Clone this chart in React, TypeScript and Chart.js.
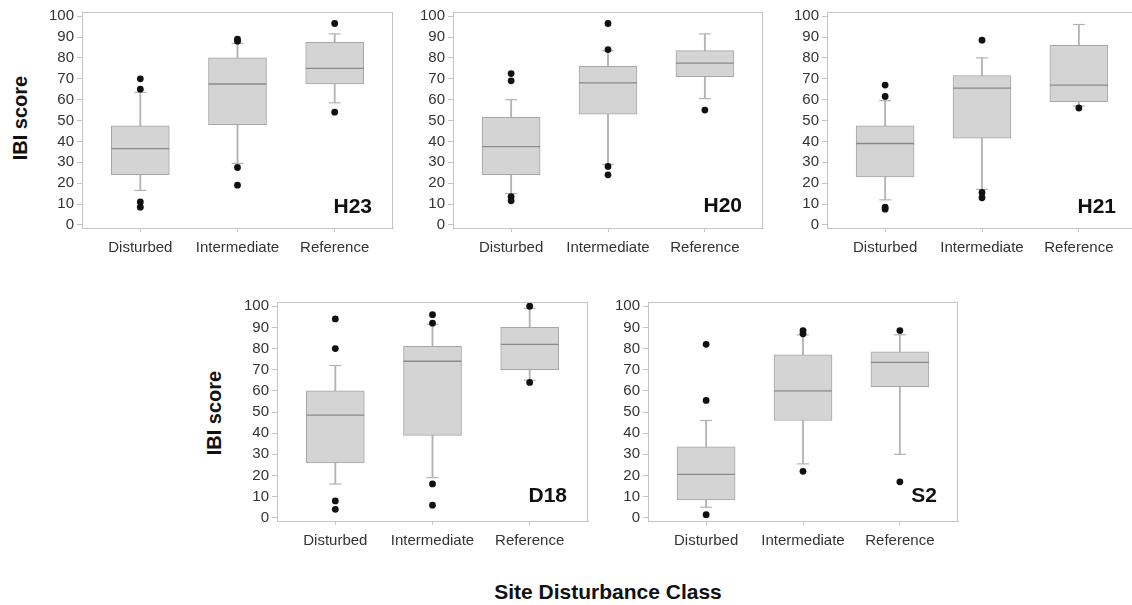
import React, { useEffect, useRef } from "react";
import { Chart, registerables } from "chart.js";

Chart.register(...registerables);

const FONT = "'Liberation Sans', Arial, Helvetica, sans-serif";

// Data
const categories = ["Disturbed", "Intermediate", "Reference"];
const yTicks = [0, 10, 20, 30, 40, 50, 60, 70, 80, 90, 100];

// five-number summaries per category: [whiskerLow, q1, median, q3, whiskerHigh]
const h23Stats = [
  [16.5, 24, 36.5, 47.5, 63.5],
  [29.5, 48, 67.5, 80, 87],
  [58.5, 67.5, 75, 87.5, 91.5],
];
const h23Outliers = [[70, 65, 11, 8.5], [89, 88, 27.5, 19], [96.5, 54]];

const h20Stats = [
  [15, 24, 37.5, 51.5, 60],
  [29, 53, 68, 76, 83.5],
  [60.5, 71, 77.5, 83.5, 91.5],
];
const h20Outliers = [[72.5, 69, 13.5, 11.5], [96.5, 84, 28, 24], [55]];

const h21Stats = [
  [12, 23, 39, 47.5, 59.5],
  [17, 41.5, 65.5, 71.5, 80],
  [57, 59, 67, 86, 96],
];
const h21Outliers = [[67, 61.5, 8.5, 7.5], [88.5, 15.5, 13], [56]];

const d18Stats = [
  [16, 26, 48.5, 60, 72],
  [19, 39, 74, 81, 91.5],
  [65, 70, 82, 90, 99],
];
const d18Outliers = [[94, 80, 8, 4], [96, 92, 16, 6], [100, 64]];

const s2Stats = [
  [5, 8.5, 20.5, 33.5, 46],
  [25.5, 46, 60, 77, 86.5],
  [30, 62, 73.5, 78.5, 86.5],
];
const s2Outliers = [[82, 55.5, 1.5], [88.5, 87, 22], [88.5, 17]];

// Layout (plot-area rectangles in page pixels)
const Y_AXIS_W = 50;
const PAD_T = 12;
const PAD_R = 12;
const X_AXIS_H = 40;

const panels = [
  { name: "H23", stats: h23Stats, outliers: h23Outliers, left: 82, right: 393, top: 12, bottom: 228, labelDy: 15 },
  { name: "H20", stats: h20Stats, outliers: h20Outliers, left: 453, right: 763, top: 12, bottom: 228, labelDy: 16 },
  { name: "H21", stats: h21Stats, outliers: h21Outliers, left: 827, right: 1137, top: 12, bottom: 228, labelDy: 15 },
  { name: "D18", stats: d18Stats, outliers: d18Outliers, left: 277, right: 588, top: 302, bottom: 521, labelDy: 19 },
  { name: "S2", stats: s2Stats, outliers: s2Outliers, left: 648, right: 958, top: 302, bottom: 521, labelDy: 19 },
];

const BOX_FILL = "#d4d4d4";
const BOX_EDGE = "#a6a6a6";
const MEDIAN = "#8a8a8a";
const WHISK = "#b3b3b3";
const FRAME = "#c4c4c4";

function Panel(props: any) {
  const { p } = props;
  const ref = useRef<HTMLCanvasElement | null>(null);
  const w = Y_AXIS_W + (p.right - p.left) + PAD_R;
  const h = PAD_T + (p.bottom - p.top) + X_AXIS_H;

  useEffect(() => {
    if (!ref.current) return;
    const stats: number[][] = p.stats;
    const outs: number[][] = p.outliers;

    const frameAndLabel = {
      id: "frameAndLabel",
      afterDatasetsDraw(chart: any) {
        const { ctx, chartArea } = chart;
        ctx.save();
        ctx.strokeStyle = FRAME;
        ctx.lineWidth = 1;
        ctx.beginPath();
        ctx.moveTo(chartArea.left, chartArea.top + 0.5);
        ctx.lineTo(chartArea.right, chartArea.top + 0.5);
        ctx.moveTo(chartArea.right - 0.5, chartArea.top);
        ctx.lineTo(chartArea.right - 0.5, chartArea.bottom);
        ctx.stroke();
        ctx.fillStyle = "#111";
        ctx.font = `bold 21px ${FONT}`;
        ctx.textAlign = "right";
        ctx.textBaseline = "alphabetic";
        ctx.fillText(p.name, chartArea.right - 21, chartArea.bottom - p.labelDy);
        ctx.restore();
      },
    };

    const chart = new Chart(ref.current, {
      type: "bar",
      data: {
        datasets: [
          {
            type: "scatter",
            label: "outliers",
            order: 0,
            data: outs.flatMap((arr, i) => arr.map((v) => ({ x: i, y: v }))),
            pointRadius: 3.4,
            pointBackgroundColor: "#111",
            pointBorderWidth: 0,
            clip: false,
          },
          {
            type: "scatter",
            label: "median",
            order: 1,
            data: stats.map((s, i) => ({ x: i, y: s[2] })),
            pointStyle: "line",
            pointRadius: 29,
            pointBorderColor: MEDIAN,
            pointBorderWidth: 1.3,
          },
          {
            type: "bar",
            label: "box",
            order: 2,
            grouped: false,
            data: stats.map((s, i) => ({ x: i, y: [s[1], s[3]] })),
            barThickness: 58,
            backgroundColor: BOX_FILL,
            borderColor: BOX_EDGE,
            borderWidth: 1,
            borderSkipped: false,
          },
          {
            type: "scatter",
            label: "caps",
            order: 3,
            data: stats.flatMap((s, i) => [
              { x: i, y: s[0] },
              { x: i, y: s[4] },
            ]),
            pointStyle: "line",
            pointRadius: 6,
            pointBorderColor: WHISK,
            pointBorderWidth: 1.2,
          },
          {
            type: "bar",
            label: "lower whisker",
            order: 4,
            grouped: false,
            data: stats.map((s, i) => ({ x: i, y: [s[0], s[1]] })),
            barThickness: 1.2,
            backgroundColor: WHISK,
            borderWidth: 0,
          },
          {
            type: "bar",
            label: "upper whisker",
            order: 4,
            grouped: false,
            data: stats.map((s, i) => ({ x: i, y: [s[3], s[4]] })),
            barThickness: 1.2,
            backgroundColor: WHISK,
            borderWidth: 0,
          },
        ] as any,
      },
      options: {
        animation: false,
        responsive: false,
        events: [],
        layout: { autoPadding: false, padding: { left: 0, right: PAD_R, top: PAD_T, bottom: 0 } },
        plugins: { legend: { display: false }, tooltip: { enabled: false } },
        scales: {
          x: {
            type: "linear",
            min: -0.6,
            max: 2.6,
            offset: false,
            grid: {
              display: true,
              offset: false,
              drawOnChartArea: false,
              drawTicks: true,
              tickLength: 4,
              color: FRAME,
            },
            border: { display: true, color: FRAME },
            afterBuildTicks: (s: any) => {
              s.ticks = categories.map((_, i) => ({ value: i }));
            },
            afterFit: (s: any) => {
              s.height = X_AXIS_H;
            },
            ticks: {
              autoSkip: false,
              maxRotation: 0,
              padding: 7,
              color: "#333",
              font: { family: FONT, size: 15 },
              callback: (v: any) => categories[v as number] ?? "",
            },
          },
          y: {
            type: "linear",
            min: -1.5,
            max: 102,
            grid: {
              display: true,
              drawOnChartArea: false,
              drawTicks: true,
              tickLength: 5,
              color: FRAME,
            },
            border: { display: true, color: FRAME },
            afterBuildTicks: (s: any) => {
              s.ticks = yTicks.map((v) => ({ value: v }));
            },
            afterFit: (s: any) => {
              s.width = Y_AXIS_W;
            },
            ticks: {
              autoSkip: false,
              padding: 3,
              color: "#333",
              font: { family: FONT, size: 15 },
            },
          },
        },
      } as any,
      plugins: [frameAndLabel],
    });
    return () => chart.destroy();
  }, []);

  return (
    <canvas
      ref={ref}
      width={w}
      height={h}
      style={{
        position: "absolute",
        left: p.left - Y_AXIS_W,
        top: p.top - PAD_T,
        width: w,
        height: h,
      }}
    />
  );
}

const axisTitle: any = {
  position: "absolute",
  fontFamily: FONT,
  fontWeight: "bold",
  fontSize: 20,
  color: "#111",
  whiteSpace: "nowrap",
  transform: "translate(-50%, -50%) rotate(-90deg)",
};

export default function App() {
  return (
    <div
      style={{
        position: "fixed",
        left: 0,
        top: 0,
        width: 1132,
        height: 605,
        overflow: "hidden",
        background: "#fff",
      }}
    >
      {panels.map((p) => (
        <Panel key={p.name} p={p} />
      ))}
      <div style={{ ...axisTitle, left: 20, top: 118 }}>IBI score</div>
      <div style={{ ...axisTitle, left: 214, top: 413 }}>IBI score</div>
      <div
        style={{
          position: "absolute",
          left: 608,
          top: 592,
          transform: "translate(-50%, -50%)",
          fontFamily: FONT,
          fontWeight: "bold",
          fontSize: 21,
          color: "#111",
          whiteSpace: "nowrap",
        }}
      >
        Site Disturbance Class
      </div>
    </div>
  );
}
